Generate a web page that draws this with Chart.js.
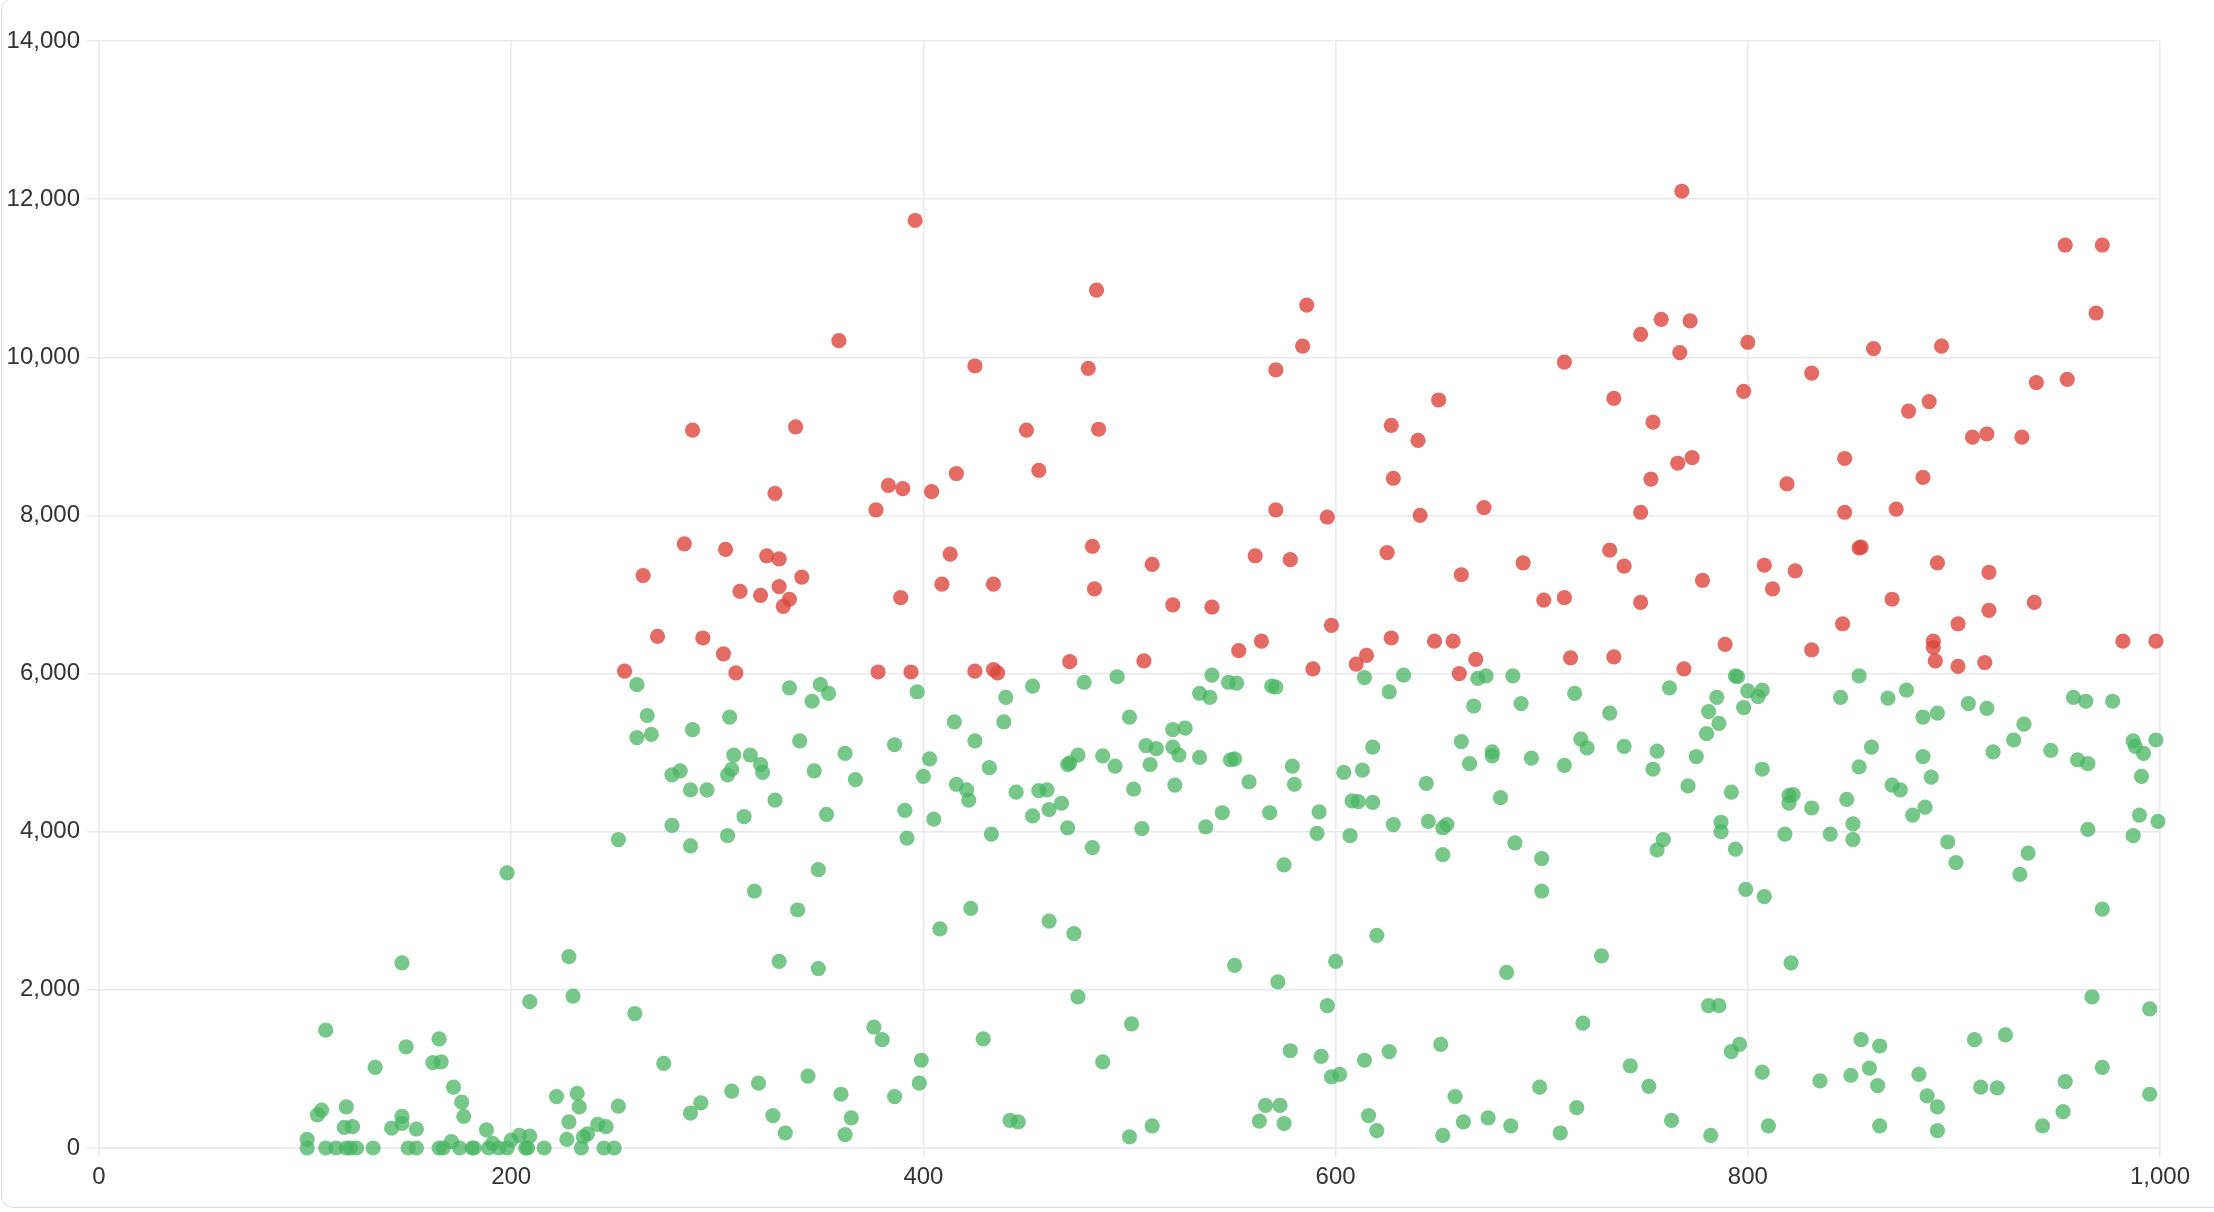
<!DOCTYPE html>
<html>
<head>
<meta charset="utf-8">
<script src="https://cdn.jsdelivr.net/npm/chart.js@4.4.1/dist/chart.umd.min.js"></script>
<style>
  html, body { margin: 0; padding: 0; background: #fff; overflow: hidden; }
  .card {
    position: absolute; left: 1px; top: -2px; width: 2240px; height: 1208px;
    border: 1.5px solid #dcdce0; border-radius: 12px; background: #fff;
  }
  canvas { position: absolute; left: 0; top: 0; }
</style>
</head>
<body>
<div class="card"></div>
<canvas id="scatter" width="2214" height="1212"></canvas>
<script>
// ---------------- Data ----------------
const redPoints = [
  [396,11730],[359,10210],[425,9890],[288,9080],[338,9120],[328,8280],[383,8380],[390,8340],[404,8300],[416,8530],
  [377,8070],[284,7640],[304,7570],[324,7490],[330,7450],[264,7240],[311,7040],[321,6990],[330,7100],[341,7220],
  [335,6940],[332,6850],[389,6960],[413,7510],[409,7130],[434,7130],[271,6470],[293,6450],[303,6250],[255,6030],
  [309,6010],[378,6020],[394,6020],[425,6030],[434,6050],[436,6010],
  [484,10850],[586,10660],[584,10140],[480,9860],[571,9840],[450,9080],[485,9090],[456,8570],[627,9140],[628,8470],
  [571,8070],[596,7980],[482,7610],[511,7380],[561,7490],[578,7440],[625,7530],[483,7070],[521,6870],[540,6840],
  [598,6610],[564,6410],[553,6290],[627,6450],[471,6150],[507,6160],[589,6060],[610,6120],[615,6230],
  [768,12100],[758,10480],[772,10460],[748,10290],[767,10060],[800,10190],[711,9940],[650,9460],[735,9480],[798,9570],
  [640,8950],[754,9180],[766,8660],[773,8730],[753,8460],[819,8400],[641,8000],[672,8100],[748,8040],[733,7560],
  [740,7360],[691,7400],[661,7250],[778,7180],[808,7370],[823,7300],[812,7070],[701,6930],[711,6960],[748,6900],
  [648,6410],[657,6410],[668,6180],[660,6000],[714,6200],[735,6210],[789,6370],[769,6060],
  [954,11420],[972,11420],[969,10560],[861,10110],[894,10140],[831,9800],[940,9680],[955,9720],[878,9320],[888,9440],
  [909,8990],[916,9030],[933,8990],[847,8720],[885,8480],[847,8040],[872,8080],[854,7590],[855,7600],[892,7400],
  [917,7280],[870,6940],[939,6900],[917,6800],[846,6630],[902,6630],[831,6300],[890,6410],[890,6330],[891,6160],
  [902,6090],[915,6140],[982,6410],[998,6410]
];

const greenPoints = [
  [261,5860],[266,5470],[261,5190],[268,5230],[252,3900],[198,3480],[228,2420],[147,2340],[209,1850],[230,1920],
  [260,1700],[110,1490],[149,1280],[165,1380],[162,1080],[166,1090],[134,1020],[172,770],[176,580],[177,400],
  [222,650],[232,690],[233,520],[252,530],[228,330],[120,520],[108,480],[106,420],[119,260],[123,270],
  [142,250],[147,400],[147,310],[154,240],[188,230],[101,110],[101,0],[110,0],[115,0],[120,0],
  [122,0],[125,0],[133,0],[150,0],[154,0],[165,0],[167,0],[171,80],[175,0],[181,0],
  [182,0],[189,0],[191,60],[194,0],[200,100],[198,0],[204,160],[209,150],[207,0],[208,0],
  [216,0],[227,110],[234,0],[235,140],[237,180],[242,300],[246,270],[245,0],[250,0],
  [335,5820],[350,5860],[354,5750],[346,5650],[397,5770],[306,5450],[288,5290],[340,5150],[386,5100],[362,4990],
  [308,4970],[316,4970],[321,4850],[322,4750],[307,4790],[305,4720],[278,4720],[282,4770],[347,4770],[367,4660],
  [403,4920],[400,4700],[287,4530],[295,4530],[328,4400],[313,4190],[353,4220],[391,4270],[405,4160],[278,4080],
  [305,3950],[287,3820],[392,3920],[349,3520],[318,3250],[339,3010],[330,2360],[349,2270],[274,1070],[376,1530],
  [380,1370],[399,1110],[398,820],[344,910],[320,820],[307,720],[292,570],[287,440],[327,410],[333,190],
  [360,680],[365,380],[362,170],[386,650],[416,4600],[421,4530],[422,4400],[415,5390],[425,5150],[432,4810],
  [439,5390],[440,5700],[453,5840],[445,4500],[456,4520],[460,4530],[453,4200],[461,4280],[467,4360],[470,4050],
  [433,3970],[482,3800],[478,5890],[494,5960],[500,5450],[475,4970],[470,4850],[471,4870],[487,4960],[493,4830],
  [502,4540],[508,5090],[513,5050],[521,5290],[521,5070],[510,4850],[522,4590],[506,4040],[423,3030],[408,2770],
  [461,2870],[473,2710],[475,1910],[501,1570],[429,1380],[487,1090],[442,350],[446,330],[500,140],[511,280],
  [540,5980],[548,5890],[552,5880],[534,5750],[539,5700],[569,5840],[571,5830],[527,5310],[524,4970],[534,4940],
  [549,4910],[551,4920],[579,4830],[558,4630],[580,4600],[545,4240],[537,4060],[568,4240],[592,4250],[591,3980],
  [607,3950],[604,4750],[613,4780],[618,5070],[608,4390],[611,4380],[618,4370],[614,5950],[633,5980],[626,5770],
  [628,4090],[644,4610],[645,4130],[652,4050],[654,4090],[652,3710],[661,5140],[665,4860],[676,5010],[676,4960],
  [667,5590],[669,5940],[673,5970],[686,5970],[690,5620],[680,4430],[695,4930],[687,3860],[700,3660],[700,3250],
  [711,4840],[716,5750],[719,5170],[722,5060],[733,5500],[740,5080],[756,5020],[754,4790],[762,5820],[759,3900],
  [756,3770],[575,3580],[620,2690],[551,2310],[600,2360],[572,2100],[683,2220],[729,2430],[596,1800],[720,1580],
  [578,1230],[593,1160],[614,1110],[626,1220],[651,1310],[598,900],[602,930],[699,770],[743,1040],[752,780],
  [658,650],[566,540],[573,540],[563,340],[575,310],[616,410],[620,220],[652,160],[662,330],[674,380],
  [685,280],[709,190],[717,510],[763,350],
  [785,5700],[781,5520],[786,5370],[780,5240],[775,4950],[771,4580],[794,5970],[795,5960],[800,5780],[807,5790],
  [805,5710],[798,5570],[807,4790],[792,4500],[787,4120],[787,4000],[794,3780],[799,3270],[808,3180],[821,2340],
  [781,1800],[786,1800],[796,1310],[792,1220],[807,960],[782,160],[810,280],[820,4460],[822,4470],[820,4360],
  [831,4300],[818,3970],[840,3970],[845,5700],[854,5970],[860,5070],[854,4820],[848,4410],[851,4100],[851,3900],
  [868,5690],[877,5790],[885,5450],[892,5500],[885,4950],[889,4690],[870,4590],[874,4530],[880,4210],[886,4310],
  [897,3870],[901,3610],[907,5620],[916,5560],[934,5360],[929,5160],[919,5010],[947,5030],[958,5700],[964,5650],
  [977,5650],[960,4910],[965,4860],[987,5150],[988,5080],[992,4990],[998,5160],[991,4700],[990,4210],[999,4130],
  [965,4030],[987,3950],[936,3730],[932,3460],[972,3020],[967,1910],[995,1760],[925,1430],[910,1370],[855,1370],
  [864,1290],[859,1010],[850,920],[835,850],[863,790],[883,930],[887,660],[892,520],[913,770],[921,760],
  [954,840],[972,1020],[995,680],[953,460],[943,280],[864,280],[892,220]
];

const xTicks = { min: 0, max: 1000, step: 200 };
const yTicks = { min: 0, max: 14000, step: 2000 };

const toXY = pts => pts.map(([x, y]) => ({ x, y }));

// ---------------- Chart ----------------
const gridColor = '#e8e8ee';
const tickFont = { family: "'Liberation Sans', Arial, sans-serif", size: 24 };

const ctx = document.getElementById('scatter').getContext('2d');
new Chart(ctx, {
  type: 'scatter',
  data: {
    datasets: [
      {
        label: 'High',
        data: toXY(redPoints),
        backgroundColor: 'rgba(220,70,60,0.8)',
        borderWidth: 0,
        pointRadius: 7.6,
        clip: false
      },
      {
        label: 'Low',
        data: toXY(greenPoints),
        backgroundColor: 'rgba(72,180,97,0.75)',
        borderWidth: 0,
        pointRadius: 7.6,
        clip: false
      }
    ]
  },
  options: {
    responsive: false,
    animation: false,
    layout: { padding: { top: 41, right: 54, left: 0, bottom: 0 } },
    plugins: { legend: { display: false }, tooltip: { enabled: false } },
    scales: {
      x: {
        type: 'linear',
        min: xTicks.min, max: xTicks.max,
        ticks: { stepSize: xTicks.step, color: '#333', font: tickFont, padding: 6 },
        grid: { color: gridColor, lineWidth: 1.5, tickLength: 9 },
        border: { color: gridColor, width: 1.5 },
        afterFit: s => { s.height = 64; }
      },
      y: {
        type: 'linear',
        min: yTicks.min, max: yTicks.max,
        ticks: { stepSize: yTicks.step, color: '#333', font: tickFont, padding: 7 },
        grid: { color: gridColor, lineWidth: 1.5, tickLength: 12 },
        border: { color: gridColor, width: 1.5 },
        afterFit: s => { s.width = 99; }
      }
    }
  }
});
</script>
</body>
</html>
